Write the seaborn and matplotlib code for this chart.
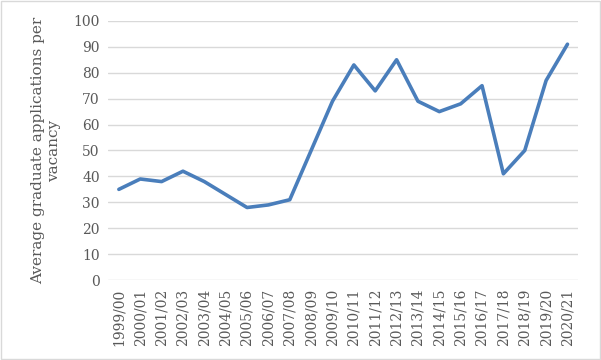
import matplotlib
matplotlib.use("Agg")
import matplotlib.pyplot as plt
import seaborn as sns
import pandas as pd
from matplotlib.patches import Rectangle

years = ["1999/00", "2000/01", "2001/02", "2002/03", "2003/04", "2004/05", "2005/06",
         "2006/07", "2007/08", "2008/09", "2009/10", "2010/11", "2011/12", "2012/13",
         "2013/14", "2014/15", "2015/16", "2016/17", "2017/18", "2018/19", "2019/20", "2020/21"]
applications = [35, 39, 38, 42, 38, 33, 28, 29, 31, 50, 69, 83, 73, 85, 69, 65, 68, 75, 41, 50, 77, 91]

df = pd.DataFrame({"year": years, "apps": applications})

sns.set_theme(style="white")
plt.rcParams['font.family'] = ['DejaVu Serif']

fig = plt.figure(figsize=(6.01, 3.6), dpi=100)
ax = fig.add_axes([0.18, 0.222, 0.782, 0.72])

x = list(range(len(years)))
sns.lineplot(x=x, y=df["apps"], ax=ax, color="#4A7EBB", linewidth=2.6)

ax.set_xlim(-0.5, len(years) - 0.5)
ax.set_ylim(0, 100)
ax.set_yticks(range(0, 101, 10))
ax.set_xticks(x)
ax.set_xticklabels(years, rotation=90)
ax.tick_params(axis='both', length=0, labelsize=10, colors="#595959", pad=6)
ax.grid(axis='y', color="#D9D9D9", linewidth=1)
ax.set_axisbelow(True)
for s in ax.spines.values():
    s.set_visible(False)
ax.set_xlabel("")
ax.set_ylabel("Average graduate applications per\nvacancy", fontsize=11, color="#595959", labelpad=9)

fig.patches.append(Rectangle((0.001, 0.002), 0.997, 0.995, transform=fig.transFigure,
                             fill=False, edgecolor="#D9D9D9", linewidth=1))

fig.savefig("out.png", dpi=100)
